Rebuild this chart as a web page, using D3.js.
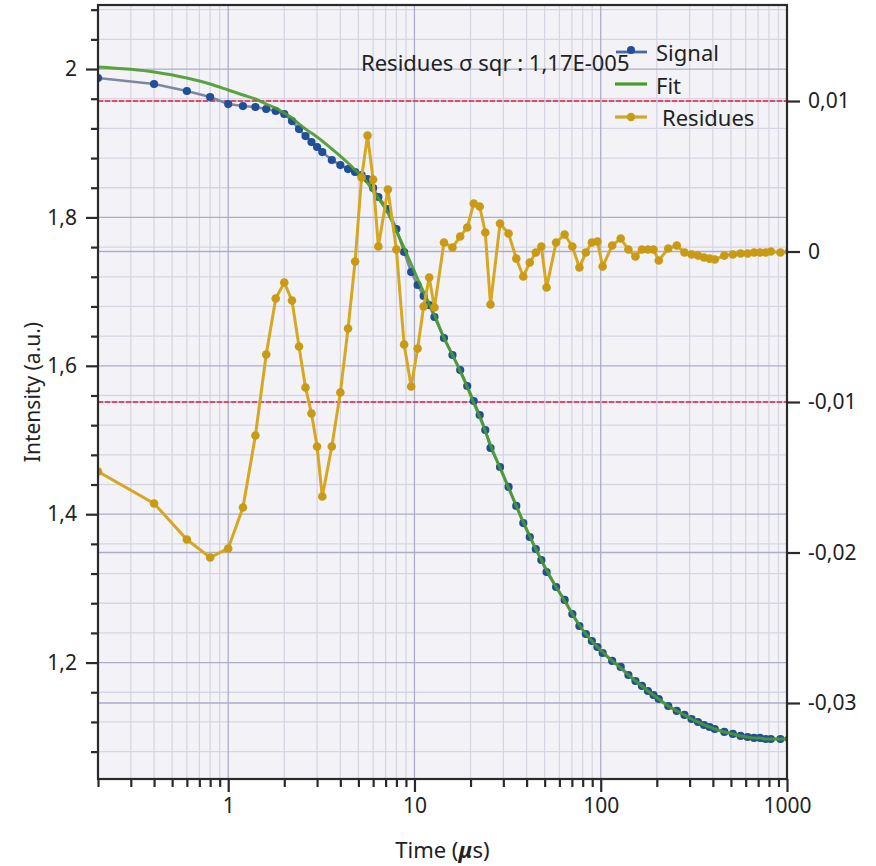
<!DOCTYPE html>
<html><head><meta charset="utf-8">
<script src="https://cdn.jsdelivr.net/npm/d3@7"></script>
<style>
body{margin:0;background:#fff;}
text{font-family:"Noto Sans","Open Sans",sans-serif;fill:#222;}
</style>
</head><body>
<svg id="c" width="876" height="866"></svg>
<script>
// ---- data ----
const times = [0.2,0.4,0.6,0.8,1.0,1.2,1.4,1.6,1.8,2.0,2.2,2.4,2.6,2.8,3.0,3.2,
  3.6,4.0,4.4,4.8,5.2,5.6,6.0,6.4,
  7.2,8.0,8.8,9.6,10.4,11.2,12.0,12.8,
  14.4,16.0,17.6,19.2,20.8,22.4,24.0,25.6,
  28.8,32.0,35.2,38.4,41.6,44.8,48.0,51.2,
  57.6,64.0,70.4,76.8,83.2,89.6,96.0,102.4,
  115.2,128.0,140.8,153.6,166.4,179.2,192.0,204.8,
  230.4,256.0,281.6,307.2,332.8,358.4,384.0,409.6,
  460.8,512.0,563.2,614.4,665.6,716.8,768.0,819.2,
  921.6,1024];
const signal = [1.9879,1.9798,1.9704,1.9623,1.9528,1.9501,1.9488,1.9461,1.9434,1.9394,1.9299,1.9191,1.9097,1.9016,1.8949,1.8881,
  1.8774,1.8706,1.8652,1.8612,1.8571,1.8518,1.8396,1.8275,
  1.8113,1.7844,1.7534,1.7264,1.7089,1.6941,1.6819,1.6658,
  1.6375,1.6146,1.5943,1.5728,1.5526,1.5337,1.5135,1.4892,
  1.4636,1.4367,1.4111,1.3881,1.3693,1.3531,1.3383,1.3221,
  1.3019,1.2844,1.2655,1.2493,1.2385,1.2291,1.2210,1.2129,
  1.2022,1.1941,1.1833,1.1752,1.1685,1.1617,1.1563,1.1509,
  1.1415,1.1348,1.1294,1.1240,1.1199,1.1159,1.1132,1.1105,
  1.1065,1.1038,1.1011,1.0997,1.0984,1.0984,1.0970,1.0970,
  1.0970,1.0970];
const fit = [2.0027,1.9960,1.9879,1.9798,1.9717,1.9650,1.9596,1.9528,1.9474,1.9407,1.9340,1.9259,1.9191,1.9137,1.9084,1.9030,
  1.8922,1.8827,1.8733,1.8639,1.8558,1.8464,1.8356,1.8261,
  1.8059,1.7817,1.7588,1.7372,1.7170,1.6995,1.6833,1.6685,
  1.6375,1.6146,1.5930,1.5714,1.5499,1.5310,1.5121,1.4933,
  1.4623,1.4353,1.4111,1.3895,1.3706,1.3531,1.3383,1.3248,
  1.3019,1.2830,1.2655,1.2507,1.2385,1.2291,1.2210,1.2143,
  1.2022,1.1927,1.1833,1.1752,1.1685,1.1617,1.1563,1.1509,
  1.1415,1.1348,1.1294,1.1240,1.1199,1.1159,1.1132,1.1105,
  1.1065,1.1038,1.1011,1.0997,1.0984,1.0984,1.0970,1.0970,
  1.0970,1.0970];
const residues = [-0.01462,-0.01674,-0.01914,-0.02033,-0.01973,-0.01701,-0.01223,-0.00684,-0.00312,-0.00206,-0.00326,-0.00631,-0.00904,-0.01076,-0.01296,-0.01628,
  -0.01296,-0.00937,-0.00512,-0.00066,0.00492,0.00771,0.00478,0.00033,
  0.00412,0.00013,-0.00618,-0.00897,-0.00645,-0.00365,-0.00173,-0.00372,
  0.0006,0.00027,0.0010,0.0016,0.00319,0.00299,0.00126,-0.00352,
  0.00186,0.0012,-0.00047,-0.00166,-0.00073,-0.00007,0.00033,-0.00239,
  0.0006,0.00113,0.00033,-0.00106,-0.00007,0.0006,0.00066,-0.0010,
  0.0004,0.00086,0.00013,-0.00033,0.00013,0.00013,0.00013,-0.0006,
  0.0002,0.0004,-0.00007,-0.0002,-0.00027,-0.0004,-0.00047,-0.00053,
  -0.00027,-0.0002,-0.00013,-0.00013,-0.00007,-0.00007,-0.00007,0,
  -0.00007,0];
const xTickValues = [1,10,100,1000];
const xTickLabels = ["1","10","100","1000"];
const leftTickValues = [1.2,1.4,1.6,1.8,2.0];
const leftTickLabels = ["1,2","1,4","1,6","1,8","2"];
const rightTickValues = [-0.03,-0.02,-0.01,0,0.01];
const rightTickLabels = ["-0,03","-0,02","-0,01","0","0,01"];
const limitValues = [0.01,-0.01];
const seriesNames = ["Signal","Fit","Residues"];
const annotation = "Residues σ sqr : 1,17E-005";

// ---- layout ----
const M = {l:98, r:787, t:5, b:779};
const col = {signalLine:"#7d879e", signalDot:"#1f4f99", fit:"#4a9a2c", res:"#d6a722", resDot:"#c99a14",
  bg:"#f3f3f7", gridMaj:"#adadc6", gridMin:"#d6d6e3", limit:"#ee4466", frame:"#2a2a2a"};

const svg = d3.select("#c");
const x = d3.scaleLog().domain([0.2,1000]).range([M.l,M.r]);
const yL = d3.scaleLinear().domain([1.0431,2.0863]).range([M.b,M.t]);
const yR = d3.scaleLinear().domain([-0.03505,0.01638]).range([M.b,M.t]);

svg.append("defs").append("clipPath").attr("id","clip")
  .append("rect").attr("x",M.l).attr("y",M.t).attr("width",M.r-M.l).attr("height",M.b-M.t);

svg.append("rect").attr("x",M.l).attr("y",M.t).attr("width",M.r-M.l).attr("height",M.b-M.t).attr("fill",col.bg);

// minor ticks
const xMinor = [];
[0.1,1,10,100].forEach(d=>{for(let k=2;k<=9;k++){const v=d*k; if(v>=0.2&&v<=1000&&![1,10,100,1000].includes(v)) xMinor.push(v);}});
const yMinor = d3.range(1.08,2.09,0.04).map(v=>+v.toFixed(2)).filter(v=>!leftTickValues.some(t=>Math.abs(t-v)<1e-6));

const grid = svg.append("g");
grid.selectAll(".vmin").data(xMinor).join("line")
  .attr("x1",d=>x(d)).attr("x2",d=>x(d)).attr("y1",M.t).attr("y2",M.b)
  .attr("stroke",col.gridMin).attr("stroke-width",1.3);
grid.selectAll(".hmin").data(yMinor).join("line")
  .attr("y1",d=>yL(d)).attr("y2",d=>yL(d)).attr("x1",M.l).attr("x2",M.r)
  .attr("stroke",col.gridMin).attr("stroke-width",1.3);
grid.selectAll(".vmaj").data(xTickValues).join("line")
  .attr("x1",d=>x(d)).attr("x2",d=>x(d)).attr("y1",M.t).attr("y2",M.b)
  .attr("stroke",col.gridMaj).attr("stroke-width",1.3);
grid.selectAll(".hmaj").data(leftTickValues).join("line")
  .attr("y1",d=>yL(d)).attr("y2",d=>yL(d)).attr("x1",M.l).attr("x2",M.r)
  .attr("stroke",col.gridMaj).attr("stroke-width",1.3);
grid.selectAll(".hmajr").data(rightTickValues).join("line")
  .attr("y1",d=>yR(d)).attr("y2",d=>yR(d)).attr("x1",M.l).attr("x2",M.r)
  .attr("stroke",col.gridMaj).attr("stroke-width",1.3);

// limit lines
svg.append("g").selectAll("line").data(limitValues).join("line")
  .attr("y1",d=>yR(d)).attr("y2",d=>yR(d)).attr("x1",M.l).attr("x2",M.r)
  .attr("stroke",col.limit).attr("stroke-width",2).attr("stroke-dasharray","5,2");

// series
const plot = svg.append("g").attr("clip-path","url(#clip)");
const pts = times.map((t,i)=>({t, s:signal[i], f:fit[i], r:residues[i]}));
const lineS = d3.line().x(d=>x(d.t)).y(d=>yL(d.s));
const lineF = d3.line().x(d=>x(d.t)).y(d=>yL(d.f)).curve(d3.curveMonotoneX);
const lineR = d3.line().x(d=>x(d.t)).y(d=>yR(d.r));

plot.append("path").datum(pts).attr("d",lineS).attr("fill","none").attr("stroke",col.signalLine).attr("stroke-width",2.6);
plot.append("g").selectAll("circle").data(pts).join("circle")
  .attr("cx",d=>x(d.t)).attr("cy",d=>yL(d.s)).attr("r",4.1).attr("fill",col.signalDot);
plot.append("path").datum(pts).attr("d",lineF).attr("fill","none").attr("stroke",col.fit).attr("stroke-width",3).attr("stroke-opacity",0.9);
plot.append("path").datum(pts).attr("d",lineR).attr("fill","none").attr("stroke",col.res).attr("stroke-width",3);
plot.append("g").selectAll("circle").data(pts).join("circle")
  .attr("cx",d=>x(d.t)).attr("cy",d=>yR(d.r)).attr("r",4.3).attr("fill",col.resDot);

// frame
svg.append("rect").attr("x",M.l).attr("y",M.t).attr("width",M.r-M.l).attr("height",M.b-M.t)
  .attr("fill","none").attr("stroke",col.frame).attr("stroke-width",2.2);

// axes
const fs = "21px";
const ax = svg.append("g").attr("transform",`translate(0,${M.b})`)
  .call(d3.axisBottom(x).tickValues(xTickValues).tickFormat((d,i)=>xTickLabels[i]).tickSize(13).tickPadding(6));
const axm = svg.append("g").attr("transform",`translate(0,${M.b})`)
  .call(d3.axisBottom(x).tickValues(xMinor).tickFormat("").tickSize(8));
const al = svg.append("g").attr("transform",`translate(${M.l},0)`)
  .call(d3.axisLeft(yL).tickValues(leftTickValues).tickFormat((d,i)=>leftTickLabels[i]).tickSize(12).tickPadding(9));
const alm = svg.append("g").attr("transform",`translate(${M.l},0)`)
  .call(d3.axisLeft(yL).tickValues(yMinor).tickFormat("").tickSize(7));
const ar = svg.append("g").attr("transform",`translate(${M.r},0)`)
  .call(d3.axisRight(yR).tickValues(rightTickValues).tickFormat((d,i)=>rightTickLabels[i]).tickSize(13).tickPadding(8));
[ax,axm,al,alm,ar].forEach(g=>{
  g.select(".domain").remove();
  g.selectAll(".tick line").attr("stroke",col.frame).attr("stroke-width",2.2);
  g.selectAll("text").attr("font-size",fs).attr("font-family","'Noto Sans',sans-serif").attr("fill","#222");
});

// axis titles
const xt = svg.append("text").attr("x",(M.l+M.r)/2).attr("y",858).attr("text-anchor","middle").attr("font-size","22px");
xt.append("tspan").text("Time (");
xt.append("tspan").attr("font-style","italic").attr("font-weight","bold").text("μ");
xt.append("tspan").text("s)");
svg.append("text").attr("transform",`translate(40,${(M.t+M.b)/2}) rotate(-90)`).attr("text-anchor","middle")
  .attr("font-size","21px").text("Intensity (a.u.)");

// annotation
svg.append("text").attr("x",361).attr("y",71).attr("font-size","22px").text(annotation);

// legend
const lg = svg.append("g");
const legY = [52,84,117];
const textX = [656,656,662];
const textY = [61,94,126];
lg.append("line").attr("x1",616).attr("x2",647).attr("y1",legY[0]).attr("y2",legY[0]).attr("stroke","#4a6a9e").attr("stroke-width",2.8);
lg.append("circle").attr("cx",631).attr("cy",legY[0]-2).attr("r",4).attr("fill",col.signalDot);
lg.append("line").attr("x1",615).attr("x2",647).attr("y1",legY[1]).attr("y2",legY[1]).attr("stroke",col.fit).attr("stroke-width",3.2);
lg.append("line").attr("x1",615).attr("x2",647).attr("y1",legY[2]).attr("y2",legY[2]).attr("stroke",col.res).attr("stroke-width",3.2);
lg.append("circle").attr("cx",631).attr("cy",legY[2]).attr("r",4.2).attr("fill",col.resDot);
lg.selectAll("text").data(seriesNames).join("text")
  .attr("x",(d,i)=>textX[i]).attr("y",(d,i)=>textY[i]).attr("font-size","22px").text(d=>d);
</script>
</body></html>
